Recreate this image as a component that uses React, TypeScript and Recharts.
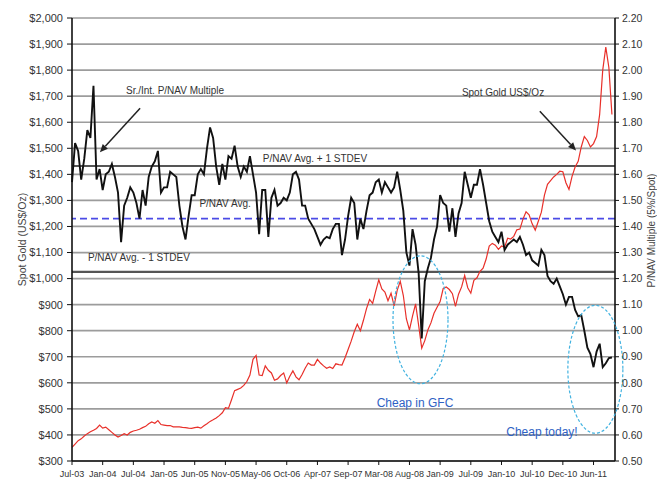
import React from 'react';
import { LineChart, Line, XAxis, YAxis, CartesianGrid, ReferenceLine, ReferenceDot } from 'recharts';

const xLabels = ['Jul-03', 'Jan-04', 'Jul-04', 'Jan-05', 'Jun-05', 'Nov-05', 'May-06', 'Oct-06', 'Apr-07', 'Sep-07', 'Mar-08', 'Aug-08', 'Jan-09', 'Jul-09', 'Jan-10', 'Jul-10', 'Dec-10', 'Jun-11'];
const POINTS_PER_LABEL = 10;

const goldPrice = [
  352, 365, 378, 385, 396, 405, 412, 418, 425, 438,
  426, 430, 420, 410, 400, 392, 398, 405, 400, 410,
  415, 418, 422, 428, 433, 443, 450, 445, 455, 440,
  438, 436, 436, 431, 431, 431, 429, 428, 426, 425,
  428, 430, 426, 435, 443, 452, 458, 465, 474, 485,
  505, 502, 535, 570, 575, 580, 590, 605, 630, 690,
  705, 630, 628, 665, 648, 638, 610, 615, 628, 638,
  600, 625, 646, 623, 612, 632, 656, 676, 668, 668,
  690, 676, 665, 656, 661, 655, 673, 670, 668, 696,
  728, 760, 796, 825, 800, 840, 885, 920, 905, 952,
  995, 960, 948, 915, 944, 895, 955, 990, 935, 845,
  803, 856, 903, 820, 733, 762, 803, 830, 867, 890,
  912, 962, 968, 958, 942, 893, 940, 968, 1012, 965,
  944, 993, 1003, 1028, 1040, 1075, 1125, 1135, 1128, 1112,
  1125, 1120, 1155, 1152, 1162, 1187, 1190, 1228, 1256, 1245,
  1210, 1186, 1220, 1255, 1320, 1362, 1376, 1390, 1400, 1412,
  1410, 1368, 1342, 1392, 1428, 1450, 1505, 1545, 1530, 1505,
  1518, 1545, 1630, 1800, 1888, 1810, 1630,
];

const pnavMultiple = [
  1.57, 1.72, 1.69, 1.58, 1.66, 1.77, 1.74, 1.94, 1.58, 1.62,
  1.54, 1.60, 1.61, 1.64, 1.59, 1.53, 1.34, 1.48, 1.51, 1.55,
  1.53, 1.49, 1.43, 1.54, 1.48, 1.59, 1.63, 1.65, 1.69, 1.53,
  1.55, 1.55, 1.61, 1.60, 1.59, 1.48, 1.40, 1.35, 1.44, 1.52,
  1.52, 1.60, 1.62, 1.60, 1.70, 1.78, 1.74, 1.63, 1.56, 1.64,
  1.58, 1.67, 1.66, 1.71, 1.63, 1.59, 1.63, 1.61, 1.67, 1.60,
  1.53, 1.37, 1.54, 1.54, 1.36, 1.51, 1.54, 1.48, 1.49, 1.51,
  1.50, 1.53, 1.60, 1.61, 1.58, 1.48, 1.48, 1.43, 1.41, 1.39,
  1.36, 1.33, 1.35, 1.36, 1.355, 1.39, 1.41, 1.41, 1.29, 1.35,
  1.44, 1.51, 1.49, 1.35, 1.43, 1.39, 1.46, 1.52, 1.53, 1.57,
  1.58, 1.53, 1.57, 1.55, 1.53, 1.55, 1.61, 1.54, 1.46, 1.30,
  1.25, 1.39, 1.33, 1.22, 0.97, 1.19, 1.24, 1.28, 1.35, 1.40,
  1.52, 1.49, 1.48, 1.38, 1.47, 1.36, 1.45, 1.49, 1.61, 1.56,
  1.51, 1.56, 1.56, 1.62, 1.56, 1.49, 1.42, 1.38, 1.36, 1.34,
  1.38, 1.31, 1.33, 1.34, 1.35, 1.34, 1.36, 1.33, 1.29, 1.30,
  1.27, 1.26, 1.25, 1.31, 1.29, 1.21, 1.19, 1.18, 1.20, 1.17,
  1.14, 1.10, 1.13, 1.13, 1.08, 1.055, 1.06, 1.00, 0.935, 0.91,
  0.86, 0.92, 0.95, 0.86, 0.875, 0.895, 0.897,
];

const goldTicks = [300, 400, 500, 600, 700, 800, 900, 1000, 1100, 1200, 1300, 1400, 1500, 1600, 1700, 1800, 1900, 2000];
const pnavTicks = [0.5, 0.6, 0.7, 0.8, 0.9, 1.0, 1.1, 1.2, 1.3, 1.4, 1.5, 1.6, 1.7, 1.8, 1.9, 2.0, 2.1, 2.2];

const PNAV_AVG = 1.43;
const PNAV_PLUS_1SD = 1.632;
const PNAV_MINUS_1SD = 1.226;

const greyNotes = [
  { text: 'Sr./Int. P/NAV Multiple', x: 33.6, y: 1.923 },
  { text: 'P/NAV Avg. + 1 STDEV', x: 79.2, y: 1.662 },
  { text: 'P/NAV Avg.', x: 49.9, y: 1.488 },
  { text: 'P/NAV Avg. - 1 STDEV', x: 21.8, y: 1.281 },
  { text: 'Spot Gold US$/Oz', x: 140.5, y: 1.915 },
];
const blueNotes = [
  { text: 'Cheap in GFC', x: 111.8, y: 0.723 },
  { text: 'Cheap today!', x: 153.2, y: 0.612 },
];
const circles = [
  { x: 113.6, y: 1.042 },
  { x: 170.6, y: 0.852 },
];
const arrows = [
  { from: { x: 22.2, y: 1.854 }, to: { x: 9.1, y: 1.685 } },
  { from: { x: 152.5, y: 1.842 }, to: { x: 164.3, y: 1.692 } },
];

const data = goldPrice.map((gold, i) => ({ i, gold, pnav: pnavMultiple[i] }));
const xTicks = xLabels.map((_, k) => k * POINTS_PER_LABEL);

const FONT = "'Liberation Sans Narrow', 'Arial Narrow', 'Liberation Sans', Arial, sans-serif";

const fmtGold = (v: number) => '$' + v.toLocaleString('en-US');
const fmtPnav = (v: number) => v.toFixed(2);

const arrowShape = (p: any) => {
  const { x1, y1, x2, y2 } = p;
  const ang = Math.atan2(y2 - y1, x2 - x1);
  const L = 8;
  const W = 3.5;
  const bx = x2 - L * Math.cos(ang);
  const by = y2 - L * Math.sin(ang);
  const px = -Math.sin(ang) * W;
  const py = Math.cos(ang) * W;
  return (
    <g>
      <line x1={x1} y1={y1} x2={bx} y2={by} stroke="#222" strokeWidth={1.5} />
      <polygon points={`${x2},${y2} ${bx + px},${by + py} ${bx - px},${by - py}`} fill="#222" />
    </g>
  );
};

export default function App() {
  return (
    <div style={{ width: 649, height: 473 }}>
      <LineChart width={649} height={473} data={data} margin={{ top: 10, right: 0, bottom: 0, left: 0 }}>
        <CartesianGrid yAxisId="gold" vertical={false} stroke="#9c9c9c" strokeWidth={1.7} />
        <XAxis
          dataKey="i"
          type="number"
          domain={[0, 177]}
          ticks={xTicks}
          interval={0}
          tickFormatter={(v: number) => xLabels[Math.round(v / POINTS_PER_LABEL)]}
          height={20}
          tickSize={4}
          tickMargin={6}
          axisLine={{ stroke: '#111', strokeWidth: 1.6 }}
          tickLine={{ stroke: '#111' }}
          tick={{ fill: '#333', fontSize: 9, fontFamily: FONT }}
        />
        <YAxis
          yAxisId="gold"
          domain={[300, 2000]}
          ticks={goldTicks}
          interval={0}
          tickFormatter={fmtGold}
          width={64}
          tickSize={5}
          tickMargin={4}
          axisLine={{ stroke: '#111', strokeWidth: 1.6 }}
          tickLine={{ stroke: '#111' }}
          tick={{ fill: '#333', fontSize: 11, fontFamily: FONT }}
          label={{
            content: (props: any) => {
              const vb = props.viewBox;
              const cx = vb.x + 14;
              const cy = vb.y + vb.height / 2;
              return (
                <text x={cx} y={cy} transform={`rotate(-90 ${cx} ${cy})`} textAnchor="middle" dominantBaseline="central" fill="#444" fontSize={10.5} fontFamily={FONT}>
                  Spot Gold (US$/Oz)
                </text>
              );
            },
          }}
        />
        <YAxis
          yAxisId="pnav"
          orientation="right"
          domain={[0.5, 2.2]}
          ticks={pnavTicks}
          interval={0}
          tickFormatter={fmtPnav}
          width={42}
          tickSize={4}
          tickMargin={3}
          axisLine={{ stroke: '#111', strokeWidth: 1.6 }}
          tickLine={{ stroke: '#111' }}
          tick={{ fill: '#333', fontSize: 10.5, fontFamily: FONT }}
          label={{
            content: (props: any) => {
              const vb = props.viewBox;
              const cx = vb.x + 36;
              const cy = vb.y + vb.height / 2 - 9;
              return (
                <text x={cx} y={cy} transform={`rotate(-90 ${cx} ${cy})`} textAnchor="middle" dominantBaseline="central" fill="#444" fontSize={10} fontFamily={FONT}>
                  P/NAV Multiple (5%/Spot)
                </text>
              );
            },
          }}
        />
        <ReferenceLine yAxisId="pnav" y={PNAV_PLUS_1SD} stroke="#555" strokeWidth={2.2} />
        <ReferenceLine yAxisId="pnav" y={PNAV_MINUS_1SD} stroke="#555" strokeWidth={2.2} />
        <ReferenceLine yAxisId="pnav" y={PNAV_AVG} stroke="#4b4be6" strokeWidth={1.8} strokeDasharray="7 4" />
        <Line yAxisId="gold" dataKey="gold" type="linear" stroke="#e8302a" strokeWidth={1.2} dot={false} isAnimationActive={false} />
        <Line yAxisId="pnav" dataKey="pnav" type="linear" stroke="#111" strokeWidth={1.9} dot={false} isAnimationActive={false} />
        {circles.map((c, k) => (
          <ReferenceDot
            key={'c' + k}
            yAxisId="pnav"
            x={c.x}
            y={c.y}
            r={1}
            shape={(p: any) => (
              <ellipse cx={p.cx} cy={p.cy} rx={27.5} ry={64} fill="none" stroke="#41b2e0" strokeWidth={1.2} strokeDasharray="3 2" />
            )}
          />
        ))}
        {arrows.map((a, k) => (
          <ReferenceLine key={'a' + k} yAxisId="pnav" segment={[a.from, a.to]} shape={arrowShape} />
        ))}
        {greyNotes.map((n, k) => (
          <ReferenceDot
            key={'n' + k}
            yAxisId="pnav"
            x={n.x}
            y={n.y}
            r={1}
            shape={(p: any) => (
              <text x={p.cx} y={p.cy} textAnchor="middle" dominantBaseline="central" fill="#333" fontSize={10} fontFamily={FONT}>
                {n.text}
              </text>
            )}
          />
        ))}
        {blueNotes.map((n, k) => (
          <ReferenceDot
            key={'b' + k}
            yAxisId="pnav"
            x={n.x}
            y={n.y}
            r={1}
            shape={(p: any) => (
              <text x={p.cx} y={p.cy} textAnchor="middle" dominantBaseline="central" fill="#2f62c4" fontSize={12} fontFamily={FONT}>
                {n.text}
              </text>
            )}
          />
        ))}
      </LineChart>
    </div>
  );
}
